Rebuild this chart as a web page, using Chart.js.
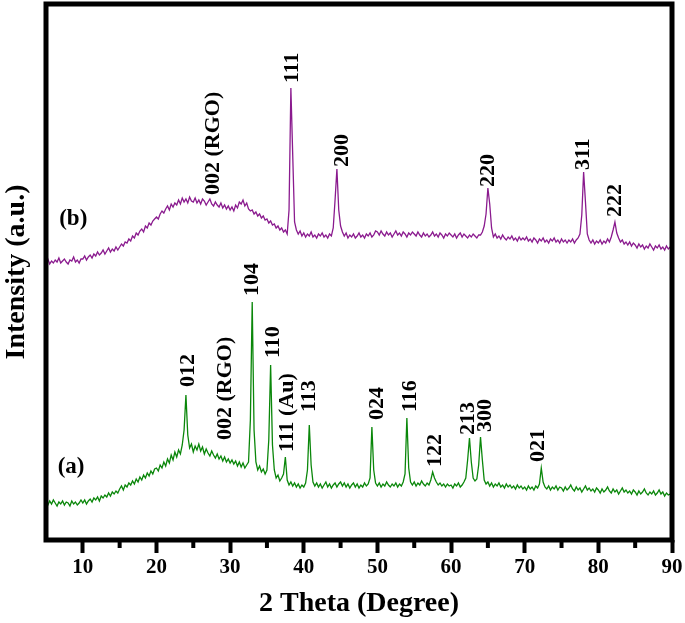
<!DOCTYPE html>
<html>
<head>
    <meta charset="UTF-8">
    <title>XRD patterns</title>
    <script src="https://cdn.jsdelivr.net/npm/chart.js@4.4.0/dist/chart.umd.min.js"></script>
</head>
<style>
    body { margin: 0; background: #fff; }
</style>
<body>
    <canvas id="chart" width="685" height="623"></canvas>

    <script>
        // scan grid (degrees 2 theta)
        var thetaStart = 5;
        var thetaStep = 0.25;

        // (a) green pattern, arbitrary units, one row = 5 degrees
        var intensityA = [
            38, 35, 39, 36, 40, 37, 34, 38, 36, 39, 35, 38, 37, 34, 39, 36, 38, 35, 37, 40,
            37, 40, 36, 39, 41, 38, 42, 40, 43, 39, 44, 42, 45, 43, 47, 44, 48, 46, 49, 47,
            51, 54, 50, 55, 53, 57, 55, 59, 56, 61, 58, 63, 60, 65, 62, 67, 64, 69, 66, 71,
            72, 69, 75, 72, 78, 74, 81, 77, 85, 80, 88, 83, 90, 86, 95, 110, 145, 105, 92, 96,
            88, 94, 90, 96, 89, 93, 86, 91, 87, 84, 89, 85, 82, 86, 81, 84, 79, 83, 78, 81,
            77, 80, 76, 79, 74, 78, 73, 77, 72, 75, 78, 120, 238, 110, 78, 70, 74, 68, 71, 66,
            70, 100, 175, 95, 70, 62, 65, 59, 62, 66, 83, 60, 55, 58, 54, 57, 53, 56, 52, 55,
            53, 57, 70, 115, 75, 58, 54, 57, 53, 56, 52, 55, 58, 53, 56, 52, 55, 57, 53, 56,
            58, 54, 57, 53, 56, 52, 55, 57, 53, 56, 52, 55, 53, 57, 54, 56, 62, 113, 70, 57,
            54, 57, 53, 56, 54, 58, 55, 53, 56, 54, 57, 53, 56, 54, 58, 66, 122, 72, 58, 55,
            58, 54, 57, 55, 59, 56, 54, 57, 55, 60, 68, 62, 58, 55, 57, 54, 56, 53, 56, 54,
            55, 52, 56, 54, 57, 53, 55, 58, 62, 80, 102, 78, 62, 59, 61, 75, 103, 80, 60, 56,
            58, 54, 57, 53, 56, 54, 57, 53, 55, 52, 56, 53, 55, 52, 54, 51, 55, 52, 54, 51,
            53, 50, 54, 51, 53, 50, 54, 52, 56, 72, 58, 53, 51, 54, 50, 53, 51, 54, 50, 53,
            52, 49, 53, 50, 52, 55, 51, 49, 53, 50, 52, 48, 51, 54, 50, 52, 49, 51, 48, 52,
            50, 47, 51, 48, 50, 53, 49, 47, 51, 48, 50, 46, 49, 52, 48, 50, 47, 49, 46, 50,
            48, 45, 49, 46, 48, 51, 47, 45, 48, 46, 49, 45, 47, 50, 46, 48, 44, 47, 45, 46,
            43
        ];

        // (b) purple pattern
        var intensityB = [
            278, 281, 276, 279, 277, 280, 278, 282, 277, 279, 281, 278, 276, 280, 279, 283, 278, 280, 277, 281,
            281, 284, 280, 283, 285, 282, 286, 284, 288, 285, 287, 290, 286, 289, 292, 288, 291, 289, 293, 290,
            293, 296, 294, 298, 297, 301, 299, 304, 302, 307, 305, 309, 311, 308, 314, 312, 317, 315, 319, 321,
            323, 321, 326, 329, 327, 331, 334, 330, 336, 333, 337, 335, 340, 336, 342, 338, 341, 337, 343, 339,
            338, 342, 337, 340, 336, 341, 339, 335, 338, 341, 336, 334, 338, 335, 333, 337, 332, 335, 331, 334,
            330, 333, 329, 335, 332, 338, 336, 340, 334, 337, 331, 329, 330, 326, 328, 324, 326, 322, 324, 320,
            321, 317, 319, 315, 316, 312, 314, 310, 312, 308, 310, 306, 330, 452, 385, 318, 310, 306, 309, 304,
            307, 303, 306, 304, 308, 303, 305, 302, 306, 304, 307, 303, 305, 302, 306, 304, 312, 340, 371, 330,
            314, 308, 304, 307, 302, 305, 303, 306, 302, 304, 307, 303, 305, 302, 306, 304, 307, 303, 305, 309,
            308, 305, 309, 306, 304, 308, 305, 307, 303, 306, 309, 305, 307, 304, 308, 306, 303, 307, 305, 308,
            306, 304, 308, 305, 303, 307, 304, 306, 303, 305, 308, 304, 306, 303, 307, 305, 302, 306, 304, 307,
            305, 303, 306, 302, 305, 307, 303, 306, 304, 302, 305, 303, 306, 304, 302, 305, 305, 308, 314, 326,
            352, 336, 312, 303, 306, 302, 304, 301, 305, 302, 300, 303, 301, 304, 300, 302, 299, 303, 300, 302,
            300, 303, 299, 301, 298, 302, 300, 297, 301, 299, 302, 298, 300, 297, 301, 299, 302, 298, 300, 297,
            301, 298, 300, 297, 300, 298, 301, 297, 300, 302, 306, 325, 368, 338, 306, 300, 297, 300, 296, 299,
            297, 300, 296, 299, 297, 301, 298, 303, 310, 318, 307, 302, 298, 300, 296, 298, 295, 298, 294, 297,
            295, 292, 296, 293, 295, 291, 294, 292, 296, 293, 290, 294, 292, 295, 291, 293, 290, 294, 291, 293,
            292
        ];

        var majorTicks = [10, 20, 30, 40, 50, 60, 70, 80, 90];
        var minorTicks = [15, 25, 35, 45, 55, 65, 75, 85];

        // peak labels: text, 2theta, intensity where the text starts
        var peakTextA = ['012', '002 (RGO)', '104', '110', '111 (Au)', '113', '024', '116', '122', '213', '300', '021'];
        var peakXA = [24.3, 29.3, 33.0, 35.9, 37.8, 40.8, 50.0, 54.4, 57.8, 62.4, 64.6, 71.9];
        var peakYA = [153, 100, 244, 182, 88, 128, 120, 128, 73, 105, 108, 78];

        var peakTextB = ['002 (RGO)', '111', '200', '220', '311', '222'];
        var peakXB = [27.7, 38.4, 45.2, 65.0, 78.0, 82.3];
        var peakYB = [345, 457, 373, 353, 370, 323];

        var seriesNames = ['(a)', '(b)'];
        var seriesNameX = [8.4, 8.7];
        var seriesNameY = [73, 321];

        var serif = "'Liberation Serif', 'Times New Roman', serif";
        var green = '#0a870a';
        var purple = '#8a1a8e';

        var twoTheta = intensityA.map(function (_, i) { return thetaStart + i * thetaStep; });

        function points(values) {
            return values.map(function (v, i) { return { x: twoTheta[i], y: v }; });
        }

        var decorations = {
            id: 'decorations',
            afterDatasetsDraw: function (chart) {
                var ctx = chart.ctx;
                var area = chart.chartArea;
                var xs = chart.scales.x;
                var ys = chart.scales.y;
                ctx.save();

                // frame
                ctx.strokeStyle = '#000';
                ctx.lineWidth = 5;
                ctx.strokeRect(area.left, area.top, area.right - area.left, area.bottom - area.top);

                // minor ticks
                ctx.lineWidth = 4;
                minorTicks.forEach(function (v) {
                    var px = xs.getPixelForValue(v);
                    ctx.beginPath();
                    ctx.moveTo(px, area.bottom);
                    ctx.lineTo(px, area.bottom + 8);
                    ctx.stroke();
                });

                // rotated peak labels
                ctx.fillStyle = '#000';
                ctx.font = 'bold 22px ' + serif;
                ctx.textAlign = 'left';
                ctx.textBaseline = 'middle';
                function vertical(texts, xv, yv) {
                    texts.forEach(function (t, i) {
                        ctx.save();
                        ctx.translate(xs.getPixelForValue(xv[i]), ys.getPixelForValue(yv[i]));
                        ctx.rotate(-Math.PI / 2);
                        ctx.fillText(t, 0, 0);
                        ctx.restore();
                    });
                }
                vertical(peakTextA, peakXA, peakYA);
                vertical(peakTextB, peakXB, peakYB);

                // series names
                ctx.font = 'bold 23px ' + serif;
                ctx.textAlign = 'center';
                seriesNames.forEach(function (t, i) {
                    ctx.fillText(t, xs.getPixelForValue(seriesNameX[i]), ys.getPixelForValue(seriesNameY[i]));
                });
                ctx.restore();
            }
        };

        new Chart(document.getElementById('chart'), {
            type: 'line',
            data: {
                datasets: [{
                    label: '(a)',
                    data: points(intensityA),
                    borderColor: green,
                    borderWidth: 1.3,
                    pointRadius: 0
                }, {
                    label: '(b)',
                    data: points(intensityB),
                    borderColor: purple,
                    borderWidth: 1.3,
                    pointRadius: 0
                }]
            },
            options: {
                responsive: false,
                animation: false,
                layout: { padding: { left: 0, right: 13, top: 4, bottom: 0 } },
                plugins: { legend: { display: false }, tooltip: { enabled: false } },
                scales: {
                    x: {
                        type: 'linear',
                        min: 5,
                        max: 90,
                        afterBuildTicks: function (axis) {
                            axis.ticks = majorTicks.map(function (v) { return { value: v }; });
                        },
                        afterFit: function (axis) { axis.height = 83; },
                        border: { display: false },
                        grid: { drawOnChartArea: false, drawTicks: true, tickLength: 13, tickWidth: 4, tickColor: '#000' },
                        ticks: {
                            color: '#000',
                            padding: 2,
                            maxRotation: 0,
                            autoSkip: false,
                            font: { family: serif, size: 21, weight: 'bold' }
                        },
                        title: {
                            display: true,
                            text: '2 Theta (Degree)',
                            color: '#000',
                            padding: { top: 0, bottom: 2 },
                            font: { family: serif, size: 28, weight: 'bold' }
                        }
                    },
                    y: {
                        min: 0,
                        max: 536,
                        afterFit: function (axis) { axis.width = 46; },
                        border: { display: false },
                        grid: { display: false },
                        ticks: { display: false },
                        title: {
                            display: true,
                            text: 'Intensity (a.u.)',
                            color: '#000',
                            padding: { top: 0, bottom: 0 },
                            font: { family: serif, size: 28, weight: 'bold' }
                        }
                    }
                }
            },
            plugins: [decorations]
        });
    </script>
</body>
</html>
